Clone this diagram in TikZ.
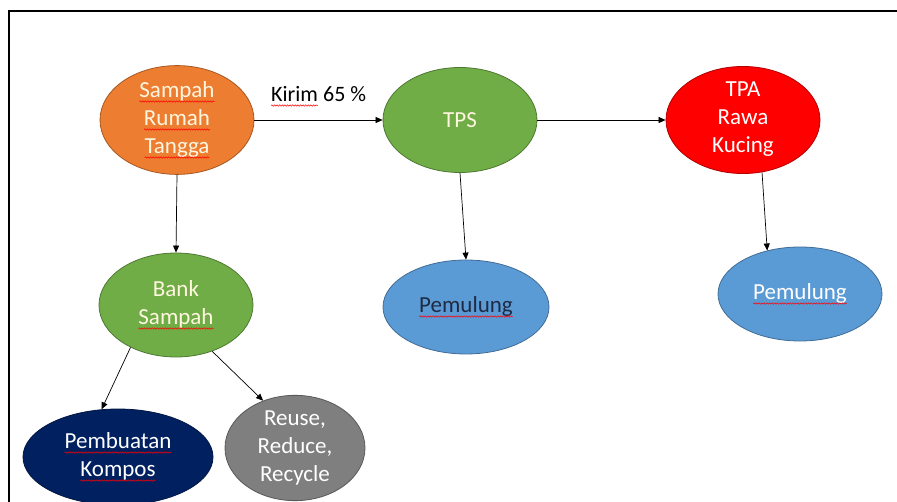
\documentclass[tikz,border=0pt]{standalone}
\usepackage{fontspec}
\setmainfont{Carlito}
\usetikzlibrary{shapes.geometric,arrows.meta,decorations.pathmorphing}
\definecolor{corange}{HTML}{ED7D31}
\definecolor{cgreen}{HTML}{70AD47}
\definecolor{cred}{HTML}{FF0000}
\definecolor{cblue}{HTML}{5B9BD5}
\definecolor{cnavy}{HTML}{002060}
\definecolor{cgrey}{HTML}{7F7F7F}
\definecolor{ctextdark}{HTML}{1F2A44}
\definecolor{ccream}{HTML}{FFF6E0}
\newcommand\redwave[1]{\tikz[baseline=(w.base),x=1pt,y=1pt]{%
  \node[shape=rectangle,inner sep=0pt,outer sep=0pt,minimum width=0pt,minimum height=0pt,draw=none,fill=none,anchor=base] (w) at (0,0) {#1};%
  \draw[-,draw=red,line width=0.5pt,decorate,decoration={snake,amplitude=0.7pt,segment length=2.6pt}] ([yshift=-4pt]w.base west) -- ([yshift=-4pt]w.base east);}}
\tikzset{
  bubble/.style={ellipse, inner sep=0pt, line width=0.8pt, align=center,
    font=\fontsize{23}{28}\selectfont, text=ccream},
  conn/.style={-{Triangle[length=7pt,width=6pt]}, line width=0.7pt, black},
}
\begin{document}
\begin{tikzpicture}[x=1pt,y=-1pt]
\useasboundingbox[fill=white] (0,0) rectangle (897,502);
\draw[line width=1.5pt] (9,503) -- (9,11) -- (898,11);

\node[bubble, fill=corange, draw=corange!70!black, minimum width=154pt, minimum height=104pt] (srt) at (177,120) {\redwave{Sampah}\\\redwave{Rumah}\\\redwave{Tangga}};
\node[bubble, fill=cgreen, draw=cgreen!70!black, minimum width=154pt, minimum height=105pt] (tps) at (460,120) {TPS};
\node[bubble, fill=cred, draw=cred!70!black, minimum width=154pt, minimum height=104pt, text=white] (tpa) at (743,120) {TPA\\\redwave{Rawa}\\\redwave{Kucing}};
\node[bubble, fill=cgreen, draw=cgreen!70!black, minimum width=154pt, minimum height=104pt] (bank) at (176,305) {Bank\\\redwave{Sampah}};
\node[bubble, fill=cblue, draw=cblue!70!black, minimum width=166pt, minimum height=94pt, text=ctextdark] (p1) at (466,307) {\redwave{Pemulung}};
\node[bubble, fill=cblue, draw=cblue!70!black, minimum width=164pt, minimum height=94pt, text=white] (p2) at (800,294) {\raisebox{3pt}{\redwave{Pemulung}}};
\node[bubble, fill=cnavy, draw=cnavy!70!black, minimum width=190pt, minimum height=96pt, text=white] (komp) at (118,457) {\redwave{Pembuatan}\\\redwave{Kompos}};
\node[bubble, fill=cgrey, draw=cgrey!70!black, minimum width=140pt, minimum height=98pt, text=white] (rrr) at (295,448) {Reuse,\\Reduce,\\Recycle};

\draw[conn] (srt.east) -- node[above=10pt, font=\fontsize{22}{26}\selectfont, text=black] (lbl) {\redwave{Kirim} 65 \%} (tps.west);
\draw[conn] (tps.east) -- (tpa.west);
\draw[conn] (srt.south) -- (bank.north);
\draw[conn] (tps.south) -- (p1.north);
\draw[conn] (tpa.-70) -- (p2.127);
\draw[conn] (bank.-137) -- (komp.109);
\draw[conn] (bank.-52) -- (rrr.124);
\end{tikzpicture}
\end{document}
